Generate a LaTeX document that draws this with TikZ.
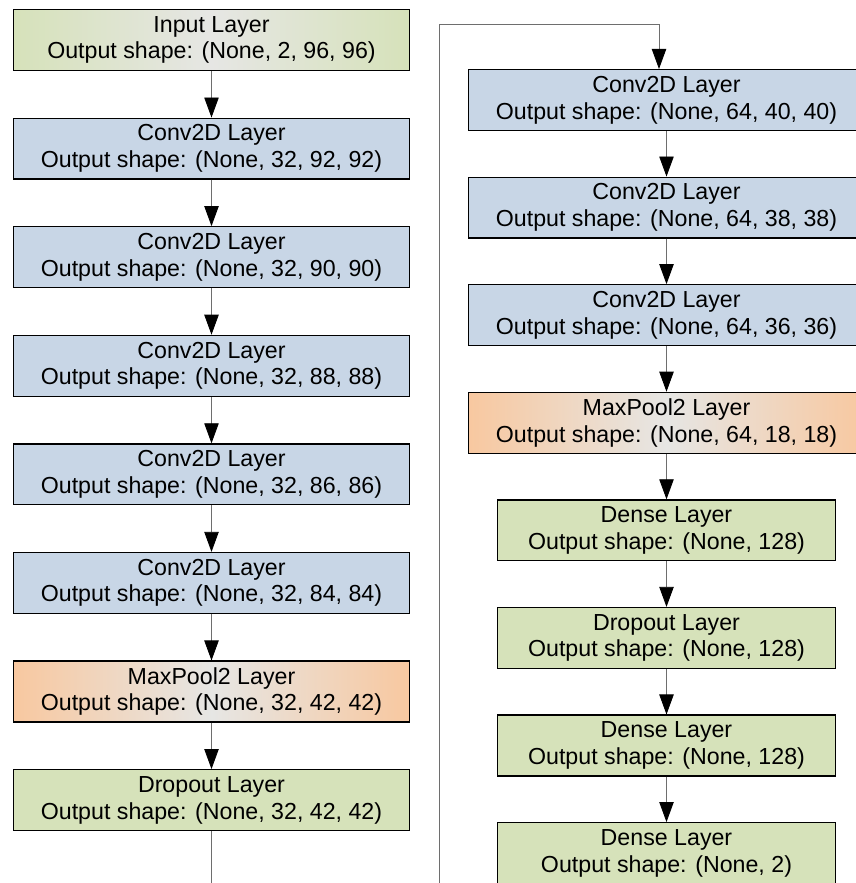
\documentclass[tikz,border=0pt]{standalone}
\usepackage{fontspec}
\setmainfont{Liberation Sans}
\usetikzlibrary{arrows.meta,positioning}
\definecolor{LBlue}{HTML}{C8D6E6}
\definecolor{LGreen}{HTML}{D6E2BA}
\definecolor{LOrange}{HTML}{F8C8A0}
\definecolor{LMid}{HTML}{E6E6E4}
\definecolor{LLine}{HTML}{6E6E6E}

\begin{document}
\begin{tikzpicture}[
  node distance=1.163cm,
  font=\fontsize{16.5}{19}\selectfont,
  lay/.style={draw=black,line width=0.9pt,minimum width=9.9cm,
    minimum height=1.52cm,align=center,inner sep=1pt},
  blue/.style={lay,fill=LBlue},
  orange/.style={lay,left color=LOrange,right color=LOrange,middle color=LMid},
  inp/.style={lay,left color=LGreen,right color=LGreen,middle color=LMid},
  green/.style={lay,fill=LGreen},
  narrow/.style={lay,fill=LGreen,minimum width=8.45cm},
  a/.style={-{Triangle[length=5mm,width=3.6mm,color=black]},color=LLine,line width=0.6pt}
]
  \useasboundingbox (0,0) rectangle (21.375,-22.075);
  % left column
  \node[inp] at (5.2875,-1.0) (in) {Input Layer\\Output shape: (None, 2, 96, 96)};
  \node[blue,below=of in] (c1) {Conv2D Layer\\Output shape: (None, 32, 92, 92)};
  \node[blue,below=of c1] (c2) {Conv2D Layer\\Output shape: (None, 32, 90, 90)};
  \node[blue,below=of c2] (c3) {Conv2D Layer\\Output shape: (None, 32, 88, 88)};
  \node[blue,below=of c3] (c4) {Conv2D Layer\\Output shape: (None, 32, 86, 86)};
  \node[blue,below=of c4] (c5) {Conv2D Layer\\Output shape: (None, 32, 84, 84)};
  \node[orange,below=of c5] (p1) {MaxPool2 Layer\\Output shape: (None, 32, 42, 42)};
  \node[green,below=of p1] (d1) {Dropout Layer\\Output shape: (None, 32, 42, 42)};
  % right column
  \begin{scope}[node distance=1.138cm]
  \node[blue] at (16.6625,-2.5) (c6) {Conv2D Layer\\Output shape: (None, 64, 40, 40)};
  \node[blue,below=of c6] (c7) {Conv2D Layer\\Output shape: (None, 64, 38, 38)};
  \node[blue,below=of c7] (c8) {Conv2D Layer\\Output shape: (None, 64, 36, 36)};
  \node[orange,below=of c8] (p2) {MaxPool2 Layer\\Output shape: (None, 64, 18, 18)};
  \node[narrow,below=of p2] (f1) {Dense Layer\\Output shape: (None, 128)};
  \node[narrow,below=of f1] (d2) {Dropout Layer\\Output shape: (None, 128)};
  \node[narrow,below=of d2] (f2) {Dense Layer\\Output shape: (None, 128)};
  \node[narrow,below=of f2] (f3) {Dense Layer\\Output shape: (None, 2)};
  \end{scope}
  % connectors
  \foreach \u/\v in {in/c1,c1/c2,c2/c3,c3/c4,c4/c5,c5/p1,p1/d1,
                     c6/c7,c7/c8,c8/p2,p2/f1,f1/d2,d2/f2,f2/f3}
    \draw[a] (\u) -- (\v);
  \coordinate (low) at (10.975,-22.6);
  \coordinate (high) at (10.975,-0.6);
  \draw[a] (d1.south) |- (low) -- (high) -| ([xshift=-0.1875cm]c6.north);
\end{tikzpicture}
\end{document}
